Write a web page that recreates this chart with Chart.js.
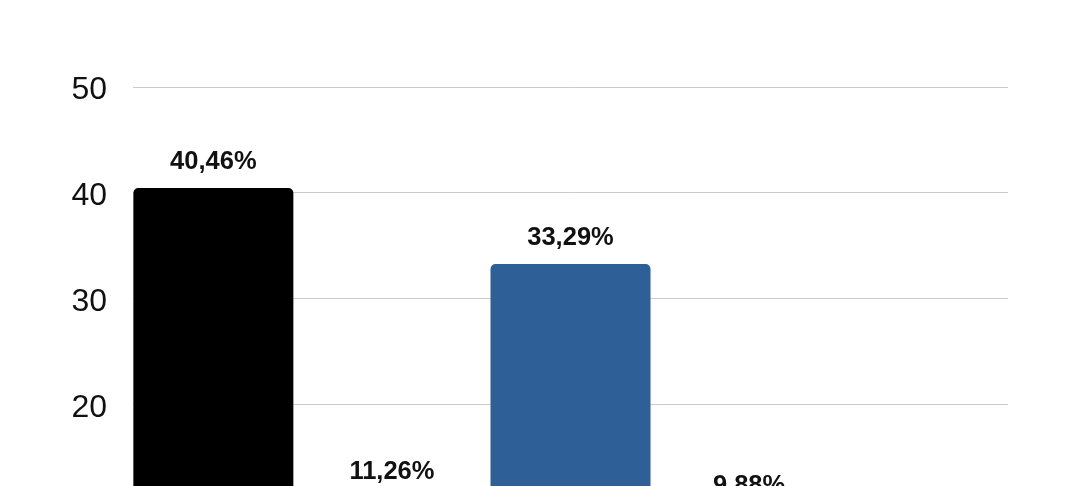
<!DOCTYPE html>
<html>
<head>
<meta charset="utf-8">
<script src="https://cdn.jsdelivr.net/npm/chart.js@4"></script>
<style>
  html, body { margin: 0; padding: 0; background: #fff; overflow: hidden; }
  #wrap { width: 1080px; height: 486px; overflow: hidden; }
</style>
</head>
<body>
<div id="wrap"><canvas id="chart" width="1080" height="662"></canvas></div>
<script>
// data (the bottom of the chart is cut off in the reference)
const categories = ['A', 'B', 'C', 'D'];
const values = [40.46, 11.26, 33.29, 9.88];
const barColors = ['#000000', '#000000', '#2e5f96', '#2e5f96'];
const yTicks = [0, 10, 20, 30, 40, 50];

// value labels above the bars, comma as decimal separator
const valueLabels = {
  id: 'valueLabels',
  afterDatasetsDraw(chart) {
    const ctx = chart.ctx;
    const meta = chart.getDatasetMeta(0);
    ctx.save();
    ctx.font = 'bold 25.5px "Liberation Sans", Arial, sans-serif';
    ctx.fillStyle = '#111';
    ctx.textAlign = 'center';
    ctx.textBaseline = 'middle';
    meta.data.forEach((bar, i) => {
      const v = values[i];
      if (v == null) return;
      ctx.fillText(v.toFixed(2).replace('.', ',') + '%', bar.x, bar.y - 26);
    });
    ctx.restore();
  }
};

new Chart(document.getElementById('chart').getContext('2d'), {
  type: 'bar',
  data: {
    labels: categories,
    datasets: [{
      data: values.map((v, i) => ({ x: i, y: v })),
      backgroundColor: barColors,
      borderRadius: 5,
      barPercentage: 0.896,
      categoryPercentage: 1
    }]
  },
  options: {
    responsive: false,
    animation: false,
    layout: { padding: { top: 87, right: 72, bottom: 23, left: 0 } },
    plugins: { legend: { display: false }, tooltip: { enabled: false } },
    scales: {
      x: {
        type: 'linear', display: false, offset: false,
        min: -0.45, max: 4.45,
        afterBuildTicks(scale) { scale.ticks = categories.map((c, i) => ({ value: i })); }
      },
      y: {
        min: yTicks[0],
        max: yTicks[yTicks.length - 1],
        afterBuildTicks(scale) { scale.ticks = yTicks.map(v => ({ value: v })); },
        afterFit(scale) { scale.width = 133; },
        border: { display: false },
        grid: { color: '#cccccc', lineWidth: 1, drawTicks: false },
        ticks: {
          padding: 26,
          labelOffset: 3,
          color: '#111',
          font: { family: '"Liberation Sans", Arial, sans-serif', size: 32 }
        }
      }
    }
  },
  plugins: [valueLabels]
});
</script>
</body>
</html>
